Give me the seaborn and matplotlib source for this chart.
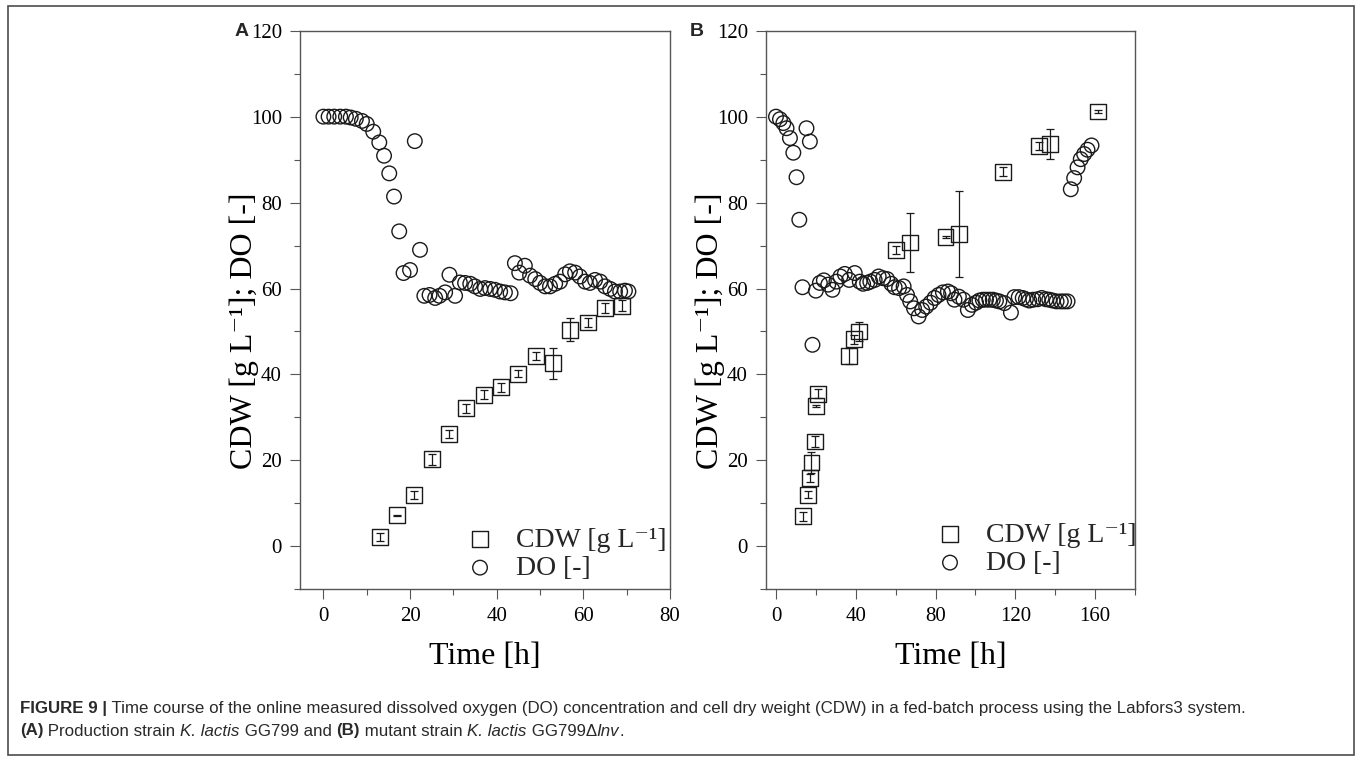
import matplotlib
matplotlib.use("Agg")
import matplotlib.pyplot as plt
import seaborn as sns
from matplotlib.patches import Rectangle
from matplotlib.ticker import MultipleLocator

# Panel A - production strain GG799
time_do_a = [0, 1.2, 2.5, 3.9, 5.2, 6.3, 7.5, 8.9, 10.0, 11.5, 12.9, 14.0, 15.2, 16.3, 17.5,
             18.5, 20.0, 21.1, 22.3, 23.3, 24.5, 25.8, 26.8, 28.1, 29.1, 30.4, 31.5, 32.7,
             33.9, 35.0, 36.2, 37.3, 38.5, 39.6, 40.8, 41.9, 43.2, 44.2, 45.2, 46.5, 47.7,
             48.9, 50.0, 51.2, 52.3, 53.5, 54.6, 55.8, 56.9, 58.1, 59.2, 60.4, 61.5, 62.7,
             63.9, 65.0, 66.2, 67.3, 68.5, 69.6, 70.4]
do_a = [100, 100, 100, 100, 100, 99.8, 99.5, 99.0, 98.3, 96.5, 94.0, 90.9, 86.8, 81.4, 73.3,
        63.6, 64.3, 94.3, 69.0, 58.3, 58.5, 57.8, 58.3, 59.1, 63.2, 58.3, 61.4, 61.3,
        61.1, 60.5, 59.9, 60.1, 59.9, 59.7, 59.3, 59.1, 58.9, 65.9, 63.7, 65.3, 63.0,
        62.2, 61.3, 60.5, 60.5, 61.1, 61.6, 63.3, 64.0, 63.7, 62.8, 61.6, 61.3, 62.0,
        61.6, 60.5, 59.9, 59.3, 59.3, 59.5, 59.3]
time_cdw_a = [13, 17, 21, 25, 29, 33, 37, 41, 45, 49, 53, 57, 61, 65, 69]
cdw_a = [2.2, 7.2, 12.0, 20.3, 26.1, 32.1, 35.3, 37.0, 40.2, 44.3, 42.6, 50.4, 52.1, 55.4, 56.0]
err_a = [0.9, 0.2, 0.9, 1.3, 1.0, 1.0, 1.1, 1.0, 0.8, 0.9, 3.6, 2.7, 1.0, 1.2, 1.3]

# Panel B - mutant strain GG799dInv
time_do_b = [0.0, 2.0, 3.7, 5.3, 7.0, 8.7, 10.3, 11.7, 13.3, 15.3, 17.0, 18.3, 20.0, 22.0,
             24.0, 26.2, 28.3, 30.3, 32.3, 34.5, 36.7, 39.5, 42.0, 43.7, 45.7, 47.3, 49.5,
             51.5, 53.7, 55.7, 57.8, 59.5, 61.7, 64.0, 65.7, 67.3, 69.2, 71.5, 73.3, 75.3,
             77.5, 79.5, 81.5, 83.7, 86.2, 87.8, 89.5, 91.7, 94.0, 96.2, 98.2, 100.3, 102.0,
             103.7, 105.3, 107.0, 108.7, 110.3, 112.0, 114.5, 117.8, 119.5, 121.7, 123.7,
             125.3, 127.0, 129.0, 131.2, 133.2, 135.3, 137.0, 138.7, 140.7, 142.8, 144.5,
             146.2, 147.8, 149.5, 151.2, 152.8, 154.5, 156.2, 158.2]
do_b = [100.0, 99.4, 98.5, 97.3, 95.0, 91.6, 85.9, 76.0, 60.3, 97.3, 94.2, 46.9, 59.5, 61.3,
        61.9, 60.9, 59.7, 61.6, 62.8, 63.4, 62.0, 63.6, 61.6, 61.1, 61.3, 61.6, 62.0,
        62.8, 62.4, 62.2, 61.1, 60.3, 60.1, 60.5, 58.5, 57.0, 55.4, 53.5, 55.0, 55.8,
        56.7, 57.8, 58.5, 59.1, 59.3, 58.9, 57.4, 58.1, 57.4, 55.0, 56.2, 56.7, 57.2,
        57.4, 57.4, 57.4, 57.4, 57.2, 57.0, 56.6, 54.4, 58.0, 58.0, 57.8,
        57.5, 57.2, 57.4, 57.5, 57.8, 57.5, 57.4, 57.2, 57.0, 57.0, 57.0,
        57.0, 83.1, 85.7, 88.2, 90.1, 91.3, 92.3, 93.3]
time_cdw_b = [13.7, 16.2, 17.0, 17.8, 19.5, 20.0, 21.2, 36.7, 39.0, 41.7, 60.0, 67.0, 85.0,
              91.7, 113.7, 131.7, 137.3, 161.5]
cdw_b = [7.0, 12.0, 15.9, 19.5, 24.4, 32.7, 35.5, 44.3, 48.2, 50.0, 69.0, 70.7, 72.0, 72.7,
         87.2, 93.2, 93.7, 101.2]
err_b = [1.0, 0.8, 1.0, 2.5, 1.3, 0.3, 1.0, 1.8, 1.0, 2.1, 1.0, 6.9, 0.3, 10.0, 1.0, 1.0,
         3.5, 0.3]

W, H = 1358, 758
ink = "#1a1a1a"
frame = "#555555"
cdw_label = "CDW [g L\u207b\u00b9]"

sns.set_style("ticks")
plt.rcParams["font.family"] = ["Liberation Serif", "DejaVu Serif"]

fig = plt.figure(figsize=(W / 100, H / 100), dpi=100)
ax_a = fig.add_axes([300 / W, 1 - 589.3 / H, 370 / W, 558.6 / H])
ax_b = fig.add_axes([766 / W, 1 - 589.3 / H, 369 / W, 558.6 / H])


def draw_panel(ax, t_do, do, t_cdw, cdw, err, xlim, step, leg_anchor):
    ax.errorbar(t_cdw, cdw, yerr=err, fmt="none", ecolor=ink, elinewidth=0.9,
                capsize=3, capthick=0.9, zorder=2)
    sns.scatterplot(x=t_cdw, y=cdw, marker="s", s=130, facecolor="none", edgecolor=ink,
                    linewidth=1.0, label=cdw_label, ax=ax, zorder=3)
    sns.scatterplot(x=t_do, y=do, marker="o", s=110, facecolor="none", edgecolor=ink,
                    linewidth=1.0, label="DO [-]", ax=ax, zorder=3)

    ax.set_xlim(*xlim)
    ax.set_ylim(-10, 120)
    ax.xaxis.set_major_locator(MultipleLocator(step))
    ax.xaxis.set_minor_locator(MultipleLocator(step / 2))
    ax.yaxis.set_major_locator(MultipleLocator(20))
    ax.yaxis.set_minor_locator(MultipleLocator(10))
    ax.tick_params(which="major", direction="out", length=7, width=0.8, color=frame,
                   labelsize=15, labelcolor="black", pad=6, top=False, right=False)
    ax.tick_params(which="minor", direction="out", length=4, width=0.8, color=frame,
                   top=False, right=False)
    for sp in ax.spines.values():
        sp.set_color(frame)
        sp.set_linewidth(1.0)

    ax.set_xlabel("Time [h]", fontsize=23, color="black")
    ax.set_ylabel(cdw_label + "; DO [-]", fontsize=23, color="black")
    ax.xaxis.set_label_coords(0.5, -0.094)
    ax.yaxis.set_label_coords(-0.112, 0.462)

    ax.legend(loc="lower left", bbox_to_anchor=leg_anchor, frameon=False, fontsize=20,
              handlelength=1.0, handletextpad=0.8, labelspacing=0.1, borderpad=0,
              borderaxespad=0)


draw_panel(ax_a, time_do_a, do_a, time_cdw_a, cdw_a, err_a, (-5.4, 80), 20, (0.449, 0.015))
draw_panel(ax_b, time_do_b, do_b, time_cdw_b, cdw_b, err_b, (-5, 180), 40, (0.461, 0.024))

# panel letters
sans = ["Liberation Sans", "DejaVu Sans"]
fig.text(241.7 / W, 1 - 32 / H, "A", family=sans, fontweight="bold", fontsize=14,
         ha="center", va="center")
fig.text(697 / W, 1 - 32 / H, "B", family=sans, fontweight="bold", fontsize=14,
         ha="center", va="center")

# outer frame
fig.patches.append(Rectangle((8 / W, 3 / H), 1346 / W, 749 / H, transform=fig.transFigure,
                             fill=False, edgecolor="#4d4d4d", linewidth=1.2))

# caption, written run by run so bold / italic parts line up
renderer = fig.canvas.get_renderer()


def caption_line(y_px, runs, x_px=20):
    x = x_px
    for txt, weight, style in runs:
        t = fig.text(x / W, 1 - y_px / H, txt, family=sans, fontsize=12.2,
                     fontweight=weight, fontstyle=style, va="center", color="#2a2a2a")
        x = t.get_window_extent(renderer).x1


caption_line(709, [
    ("FIGURE 9 |", "bold", "normal"),
    (" Time course of the online measured dissolved oxygen (DO) concentration and cell dry "
     "weight (CDW) in a fed-batch process using the Labfors3 system.", "normal", "normal"),
])
caption_line(731, [
    ("(A)", "bold", "normal"),
    (" Production strain ", "normal", "normal"),
    ("K. lactis", "normal", "italic"),
    (" GG799 and ", "normal", "normal"),
    ("(B)", "bold", "normal"),
    (" mutant strain ", "normal", "normal"),
    ("K. lactis", "normal", "italic"),
    (" GG799\u0394", "normal", "normal"),
    ("Inv", "normal", "italic"),
    (".", "normal", "normal"),
])

fig.savefig("out.png", dpi=100)
